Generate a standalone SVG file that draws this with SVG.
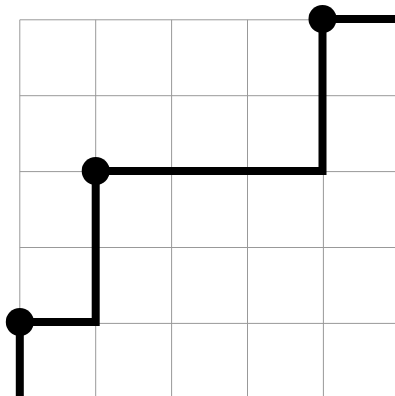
<svg xmlns="http://www.w3.org/2000/svg" width="395" height="396" viewBox="0 0 395 396">
<style>
.grid{stroke:#999;stroke-width:1;fill:none}
.path{stroke:#000;stroke-width:8;fill:none;stroke-linejoin:miter;stroke-linecap:butt}
.dot{fill:#000}
</style>
<rect width="395" height="396" fill="#fff"/>
<g id="grid" class="grid">
<path d="M19.8,19.8H395M19.8,95.7H395M19.8,171.6H395M19.8,247.5H395M19.8,323.4H395"/>
<path d="M19.8,19.8V396M95.7,19.8V396M171.6,19.8V396M247.5,19.8V396M323.4,19.8V396"/>
</g>
<g id="connectors">
<path class="path" d="M19.8,396V322H95.7V171H322.5V19H395"/>
</g>
<g id="n1"><circle class="dot" cx="19.8" cy="322" r="14"/></g>
<g id="n2"><circle class="dot" cx="95.7" cy="171" r="14"/></g>
<g id="n3"><circle class="dot" cx="322.5" cy="19" r="14"/></g>
</svg>
